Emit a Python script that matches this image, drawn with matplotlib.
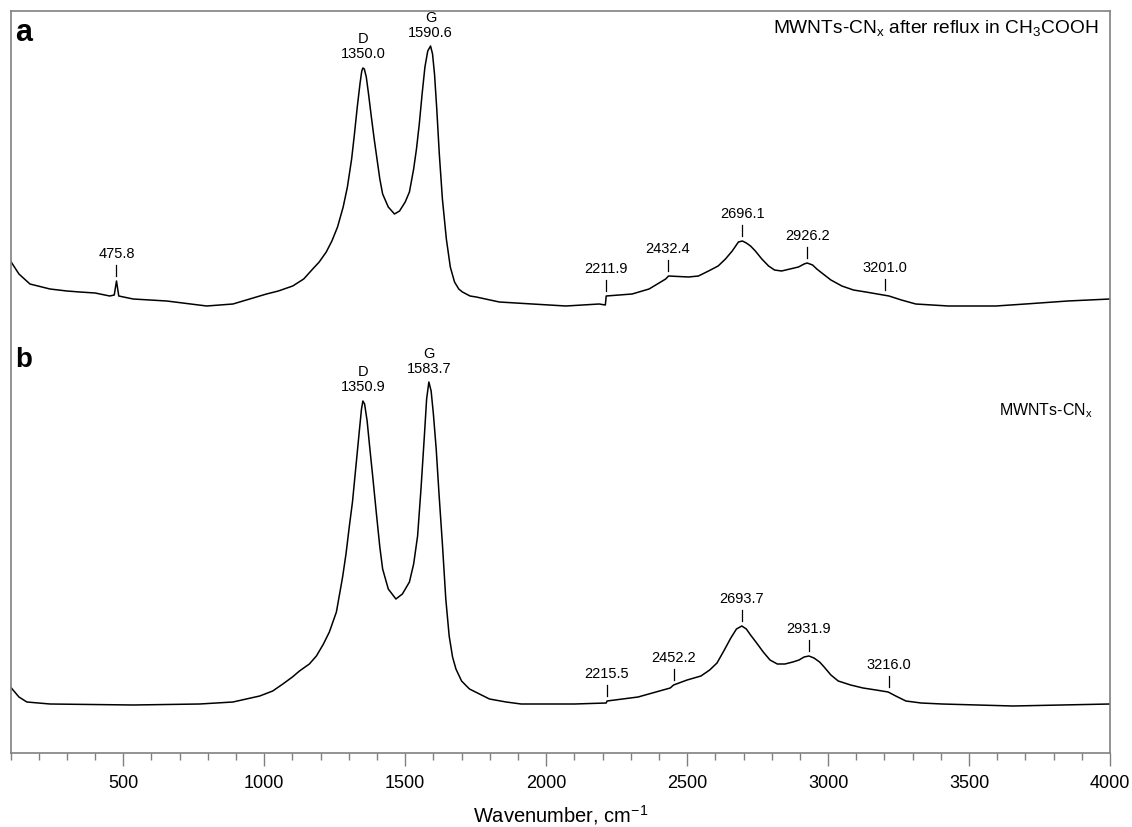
import numpy as np
import matplotlib
matplotlib.use("Agg")
import matplotlib.pyplot as plt
from matplotlib.ticker import MultipleLocator

plt.rcParams['font.family'] = ['Liberation Sans', 'DejaVu Sans']
plt.rcParams['mathtext.fontset'] = 'custom'
plt.rcParams['mathtext.rm'] = 'Liberation Sans'

# spectrum a (after reflux) - wavenumber, picture row of the trace
wn_a = [100, 130, 169, 240, 300, 346, 400, 452, 468, 476, 484, 535, 654, 796, 889,
        1008, 1050, 1101, 1140, 1172, 1195, 1220, 1240, 1260, 1280, 1295, 1310, 1320,
        1330, 1340, 1346, 1350, 1355, 1362, 1370, 1380, 1390, 1400, 1410, 1420, 1440,
        1462, 1480, 1500, 1515, 1530, 1540, 1550, 1560, 1570, 1580, 1590, 1597, 1604,
        1612, 1621, 1632, 1646, 1660, 1675, 1690, 1703, 1730, 1752, 1834, 1951, 2070,
        2188, 2210, 2213, 2305, 2365, 2424, 2434, 2505, 2540, 2576, 2610, 2636, 2660,
        2682, 2696, 2710, 2725, 2742, 2765, 2789, 2810, 2835, 2865, 2895, 2915, 2926,
        2945, 2960, 2978, 3010, 3049, 3090, 3134, 3175, 3216, 3260, 3311, 3427, 3595,
        3700, 3850, 4000]
ypx_a = [262, 275, 285, 290, 292, 293, 294, 297, 296, 282, 297, 300, 302, 307, 305,
         295, 292, 287, 280, 270, 263, 253, 242, 228, 208, 188, 160, 135,
         108, 84, 72, 69, 70, 78, 95, 118, 140, 160, 180, 195, 208,
         215, 212, 203, 193, 170, 150, 125, 95, 68, 52, 47, 55, 75,
         110, 155, 200, 240, 268, 283, 290, 293, 297, 298, 303, 305, 307,
         305, 306, 297, 295, 290, 280, 277, 278, 277, 272, 267, 260, 252,
         243, 242, 244, 247, 252, 260, 267, 271, 272, 270, 268, 265, 264,
         266, 270, 274, 281, 287, 291, 293, 295, 297, 301, 305, 307, 307,
         305, 302, 300]

# spectrum b (as prepared)
wn_b = [100, 130, 158, 240, 535, 771, 889, 984, 1030, 1066, 1100, 1125, 1160, 1185,
        1210, 1231, 1256, 1278, 1290, 1302, 1313, 1325, 1338, 1345, 1350, 1356, 1365,
        1373, 1385, 1398, 1410, 1420, 1440, 1467, 1490, 1515, 1530, 1544, 1556, 1568,
        1576, 1584, 1592, 1600, 1610, 1620, 1632, 1644, 1656, 1668, 1680, 1700, 1728,
        1799, 1858, 1911, 2101, 2213, 2216, 2326, 2440, 2452, 2500, 2549, 2580, 2606,
        2630, 2655, 2675, 2694, 2710, 2725, 2744, 2770, 2794, 2820, 2847, 2875, 2897,
        2915, 2932, 2950, 2970, 2986, 3010, 3036, 3080, 3124, 3170, 3213, 3240, 3276,
        3330, 3404, 3656, 4000]
ypx_b = [688, 698, 703, 705, 706, 705, 703, 697, 692, 685, 678, 672, 665, 657,
         645, 633, 613, 578, 555, 527, 503, 468, 430, 410, 402, 405, 422,
         445, 478, 515, 548, 570, 590, 600, 595, 583, 565, 537, 490, 437,
         400, 383, 392, 415, 450, 495, 545, 600, 637, 658, 670, 682, 690,
         700, 703, 705, 705, 704, 702, 698, 689, 686, 681, 677, 671, 664,
         652, 639, 630, 627, 630, 636, 643, 653, 661, 665, 665, 663, 661,
         658, 657, 659, 663, 668, 676, 682, 686, 689, 691, 693, 697, 702,
         704, 705, 707, 705]

peaks_a = [475.8, 2211.9, 2432.4, 2696.1, 2926.2, 3201.0]
peaks_b = [2215.5, 2452.2, 2693.7, 2931.9, 3216.0]
dg_a = [("D", 1350.0), ("G", 1590.6)]
dg_b = [("D", 1350.9), ("G", 1583.7)]

BOTTOM = 754  # picture row of the axis bottom, signal = BOTTOM - row
sig_a = BOTTOM - np.array(ypx_a)
sig_b = BOTTOM - np.array(ypx_b)

fig = plt.figure(figsize=(11.32, 8.28), dpi=100)
ax = fig.add_axes([10.5 / 1132, 74 / 828, 1099.5 / 1132, 742 / 828])
ax.plot(wn_a, sig_a, color='black', lw=1.1)
ax.plot(wn_b, sig_b, color='black', lw=1.1)
ax.set_xlim(100, 4000)
ax.set_ylim(0, 742)


def height(w, wn, sig):
    return max(np.interp([w - 4, w, w + 4], wn, sig))


lab_font = dict(fontsize=10.5)
for peaks, wn, sig in [(peaks_a, wn_a, sig_a), (peaks_b, wn_b, sig_b)]:
    for p in peaks:
        h = height(p, wn, sig)
        ax.plot([p, p], [h + 5, h + 16], color='black', lw=0.9)
        ax.text(p, h + 28, "%.1f" % p, ha='center', va='center', **lab_font)

for dg, wn, sig in [(dg_a, wn_a, sig_a), (dg_b, wn_b, sig_b)]:
    for name, p in dg:
        h = height(p, wn, sig)
        ax.text(p, h + 15, "%.1f" % p, ha='center', va='center', clip_on=False, **lab_font)
        ax.text(p, h + 30, name, ha='center', va='center', clip_on=False, **lab_font)

ax.text(0.004, 0.992, "a", transform=ax.transAxes, fontsize=22, fontweight='bold',
        ha='left', va='top')
ax.text(0.004, 0.549, "b", transform=ax.transAxes, fontsize=20, fontweight='bold',
        ha='left', va='top')
ax.text(0.9895, 0.977, r"MWNTs-CN$_\mathregular{x}$ after reflux in CH$_\mathregular{3}$COOH",
        transform=ax.transAxes, fontsize=13.8, ha='right', va='center')
ax.text(0.984, 0.463, r"MWNTs-CN$_\mathregular{x}$", transform=ax.transAxes,
        fontsize=11.5, ha='right', va='center')

for s in ax.spines.values():
    s.set_color('#808080')
    s.set_linewidth(1.2)
ax.set_yticks([])
ax.xaxis.set_major_locator(MultipleLocator(500))
ax.xaxis.set_minor_locator(MultipleLocator(100))
ax.tick_params(axis='x', which='major', direction='out', length=9, width=1, color='#808080',
               labelsize=13, pad=6)
ax.tick_params(axis='x', which='minor', direction='out', length=5, width=1, color='#808080')
ax.set_xlabel("Wavenumber, cm$^{-1}$", fontsize=14.5, labelpad=8)

fig.savefig("out.png", dpi=100)
